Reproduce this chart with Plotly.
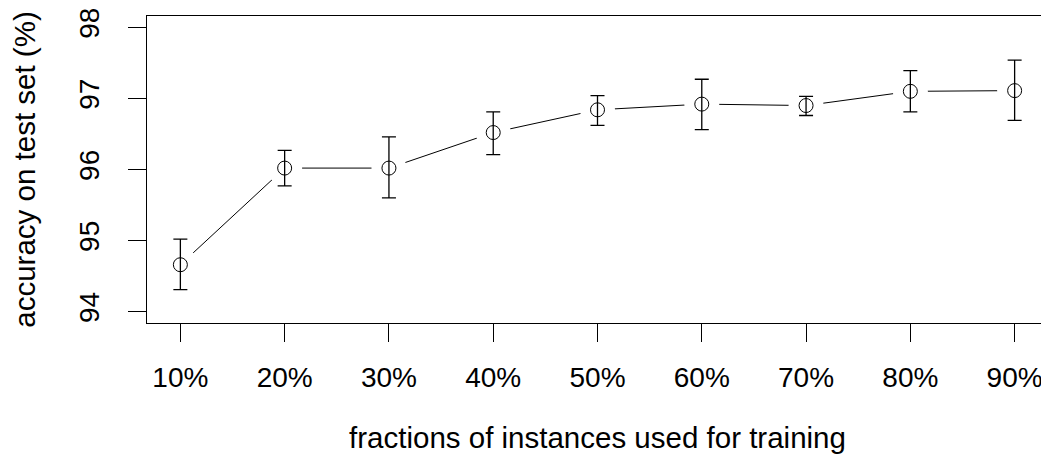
import plotly.graph_objects as go

fractions = ["10%", "20%", "30%", "40%", "50%", "60%", "70%", "80%", "90%"]
accuracy = [94.66, 96.02, 96.02, 96.52, 96.84, 96.92, 96.90, 97.10, 97.11]
upper = [95.02, 96.27, 96.46, 96.81, 97.04, 97.27, 97.03, 97.39, 97.54]
lower = [94.31, 95.77, 95.60, 96.21, 96.62, 96.56, 96.76, 96.81, 96.69]
y_ticks = [94, 95, 96, 97, 98]

x = list(range(1, len(fractions) + 1))
err_plus = [u - a for u, a in zip(upper, accuracy)]
err_minus = [a - l for a, l in zip(accuracy, lower)]

FONT = "Liberation Sans, Arial, Helvetica, sans-serif"

fig = go.Figure()
# connecting line
fig.add_trace(go.Scatter(x=x, y=accuracy, mode="lines",
                         line=dict(color="black", width=1), hoverinfo="skip",
                         showlegend=False))
# white masks to create gaps like R type="b"
fig.add_trace(go.Scatter(x=x, y=accuracy, mode="markers",
                         marker=dict(symbol="circle", size=35, color="white",
                                     line=dict(width=0)),
                         hoverinfo="skip", showlegend=False))
# points with error bars
fig.add_trace(go.Scatter(x=x, y=accuracy, mode="markers",
                         marker=dict(symbol="circle-open", size=14, color="black",
                                     line=dict(width=1, color="black")),
                         error_y=dict(type="data", symmetric=False,
                                      array=err_plus, arrayminus=err_minus,
                                      color="black", thickness=1.3, width=7),
                         showlegend=False))

fig.update_layout(
    width=1041, height=446,
    margin=dict(l=139, r=1, t=8, b=131),
    paper_bgcolor="white", plot_bgcolor="white",
    font=dict(family=FONT, size=28, color="black"),
)
fig.update_xaxes(
    range=[0.68, 9.32], tickvals=x, ticktext=fractions,
    showgrid=False, zeroline=False, automargin=False,
    showline=True, mirror=True, linecolor="black", linewidth=1,
    ticks="outside", ticklen=18, tickcolor="black", tickwidth=1,
    ticklabelstandoff=11, ticklabeloverflow="allow",
    title=dict(text="fractions of instances used for training", standoff=39,
               font=dict(size=29.5)),
)
fig.update_yaxes(
    range=[93.84, 98.16], tickvals=y_ticks, ticktext=[str(t) for t in y_ticks],
    tickangle=-90, automargin=False,
    showgrid=False, zeroline=False,
    showline=True, mirror=False, linecolor="black", linewidth=1,
    ticks="outside", ticklen=18, tickcolor="black", tickwidth=1,
    ticklabelstandoff=18, ticklabeloverflow="allow",
    title=dict(text="accuracy on test set (%)", standoff=29, font=dict(size=29.5)),
)

fig.write_html("out.html")
